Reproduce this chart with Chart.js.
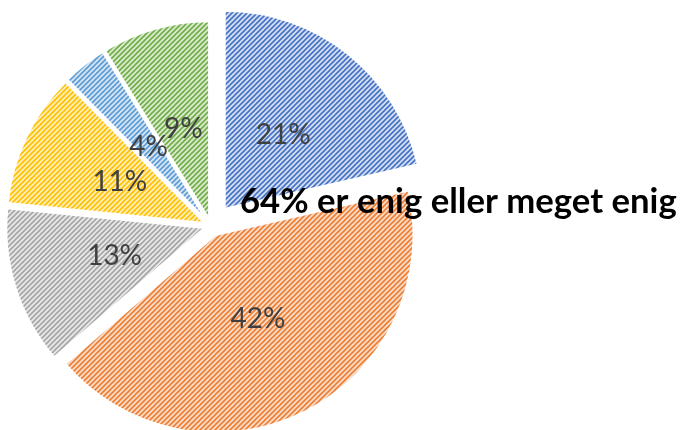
<!DOCTYPE html>
<html>
<head>
<meta charset="utf-8">
<script src="https://cdn.jsdelivr.net/npm/chart.js@4.4.1/dist/chart.umd.min.js"></script>
<style>
  html, body { margin: 0; padding: 0; background: #fff; }
</style>
</head>
<body>
<canvas id="myChart" width="681" height="430"></canvas>
<script>
// data (slice angles; labels show them rounded)
const categories = ['Meget enig', 'Enig', 'Hverken enig eller uenig', 'Uenig', 'Meget uenig', 'Ved ikke'];
const values = [21.4, 42.3, 12.9, 11.0, 3.6, 8.8];
const caption = '64% er enig eller meget enig';

// Excel-like colours: stripe colour and light tint behind it
const stripeColors = ['#4472C4', '#ED7D31', '#A5A5A5', '#FFC000', '#5B9BD5', '#70AD47'];
const tintColors = ['#D5DEF2', '#FBDDCA', '#E8E8E8', '#FFEEB8', '#D5E5F4', '#DAEACF'];

// wide upward diagonal hatch
function hatch(fg, bg) {
    const s = 5;
    const c = document.createElement('canvas');
    c.width = s; c.height = s;
    const g = c.getContext('2d');
    g.fillStyle = bg;
    g.fillRect(0, 0, s, s);
    g.strokeStyle = fg;
    g.lineWidth = 1.6;
    g.beginPath();
    g.moveTo(-1, 1); g.lineTo(1, -1);
    g.moveTo(0, s); g.lineTo(s, 0);
    g.moveTo(s - 1, s + 1); g.lineTo(s + 1, s - 1);
    g.stroke();
    return g.createPattern(c, 'repeat');
}

const patterns = stripeColors.map((c, i) => hatch(c, tintColors[i]));

// pull each slice out along its middle angle (Excel style explosion)
const explode = {
    id: 'explode',
    afterDatasetUpdate(chart, args, opts) {
        const dist = opts.distances || [];
        chart.getDatasetMeta(args.index).data.forEach((arc, i) => {
            const mid = (arc.startAngle + arc.endAngle) / 2;
            const d = dist[i] || 0;
            arc.x += Math.cos(mid) * d;
            arc.y += Math.sin(mid) * d;
        });
    }
};

const pctLabels = {
    id: 'pctLabels',
    afterDatasetsDraw(chart) {
        const ctx = chart.ctx;
        const meta = chart.getDatasetMeta(0);
        ctx.save();
        ctx.font = '28px Lato';
        ctx.fillStyle = '#404040';
        ctx.textAlign = 'center';
        ctx.textBaseline = 'middle';
        meta.data.forEach((arc, i) => {
            const mid = (arc.startAngle + arc.endAngle) / 2;
            const r = arc.outerRadius * 0.475;
            ctx.fillText(Math.round(values[i]) + '%', arc.x + Math.cos(mid) * r, arc.y + Math.sin(mid) * r);
        });
        ctx.restore();
    }
};

const captionPlugin = {
    id: 'caption',
    afterDraw(chart) {
        const ctx = chart.ctx;
        ctx.save();
        ctx.font = 'bold 32px Lato';
        const w = ctx.measureText(caption).width;
        const size = 32 * 437 / w;
        ctx.font = 'bold ' + size.toFixed(1) + 'px Lato';
        ctx.fillStyle = '#000';
        ctx.textBaseline = 'alphabetic';
        ctx.fillText(caption, 240, 213);
        ctx.restore();
    }
};

const ctx = document.getElementById('myChart');

new Chart(ctx, {
    type: 'pie',
    data: {
        labels: categories,
        datasets: [{
            data: values,
            backgroundColor: patterns,
            borderColor: '#ffffff',
            borderWidth: 2,
            clip: false
        }]
    },
    options: {
        responsive: false,
        animation: false,
        radius: 198,
        layout: {padding: {left: 0, right: 259, top: 22, bottom: 0}},
        plugins: {
            legend: {display: false},
            tooltip: {enabled: false},
            explode: {distances: [22, 10, 7, 7, 7, 7]}
        }
    },
    plugins: [explode, pctLabels, captionPlugin]
});
</script>
</body>
</html>
